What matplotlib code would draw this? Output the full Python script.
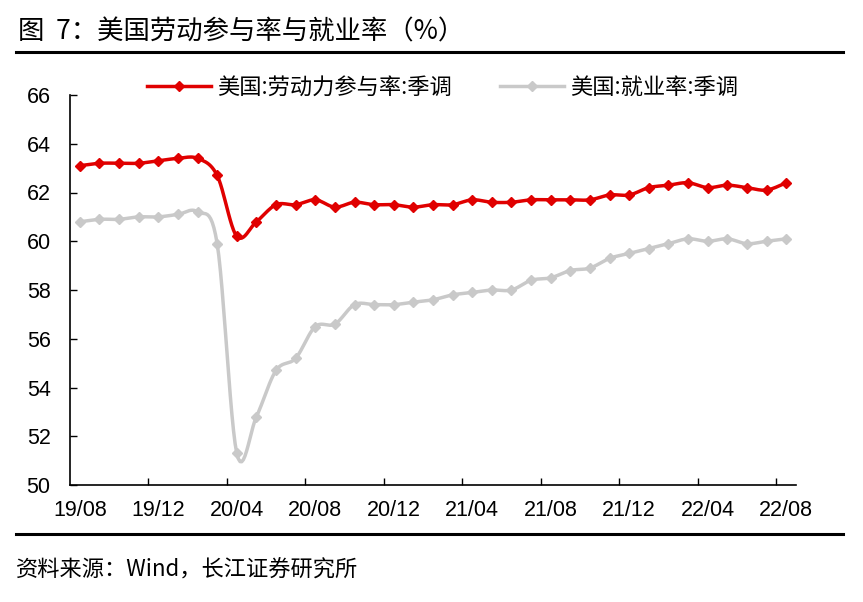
import numpy as np
import matplotlib
matplotlib.use("Agg")
import matplotlib.pyplot as plt
from matplotlib.lines import Line2D

# 月份标签（2019/08 - 2022/08）
months = ["19/08", "19/09", "19/10", "19/11", "19/12", "20/01", "20/02", "20/03",
          "20/04", "20/05", "20/06", "20/07", "20/08", "20/09", "20/10", "20/11",
          "20/12", "21/01", "21/02", "21/03", "21/04", "21/05", "21/06", "21/07",
          "21/08", "21/09", "21/10", "21/11", "21/12", "22/01", "22/02", "22/03",
          "22/04", "22/05", "22/06", "22/07", "22/08"]

# 美国:劳动力参与率:季调
lfpr = [63.1, 63.2, 63.2, 63.2, 63.3, 63.4, 63.4, 62.7, 60.2, 60.8, 61.5, 61.5,
        61.7, 61.4, 61.6, 61.5, 61.5, 61.4, 61.5, 61.5, 61.7, 61.6, 61.6, 61.7,
        61.7, 61.7, 61.7, 61.9, 61.9, 62.2, 62.3, 62.4, 62.2, 62.3, 62.2, 62.1,
        62.4]

# 美国:就业率:季调
epop = [60.8, 60.9, 60.9, 61.0, 61.0, 61.1, 61.2, 59.9, 51.3, 52.8, 54.7, 55.2,
        56.5, 56.6, 57.4, 57.4, 57.4, 57.5, 57.6, 57.8, 57.9, 58.0, 58.0, 58.4,
        58.5, 58.8, 58.9, 59.3, 59.5, 59.7, 59.9, 60.1, 60.0, 60.1, 59.9, 60.0,
        60.1]

yticks = [50, 52, 54, 56, 58, 60, 62, 64, 66]

red = "#E00000"
gray = "#C9C9C9"
num_font = ["Liberation Sans", "Noto Sans CJK SC"]
cjk_font = ["Noto Sans CJK SC", "DejaVu Sans"]


def smooth(y, n=12):
    # Catmull-Rom 平滑曲线（类似 Excel 平滑线）
    y = np.asarray(y, dtype=float)
    x = np.arange(len(y), dtype=float)
    px = np.concatenate([[x[0]], x, [x[-1]]])
    py = np.concatenate([[y[0]], y, [y[-1]]])
    xs, ys = [], []
    for i in range(1, len(px) - 2):
        t = np.linspace(0, 1, n, endpoint=False)
        for arr, out in ((px, xs), (py, ys)):
            p0, p1, p2, p3 = arr[i - 1], arr[i], arr[i + 1], arr[i + 2]
            out.extend(0.5 * ((2 * p1) + (-p0 + p2) * t
                              + (2 * p0 - 5 * p1 + 4 * p2 - p3) * t ** 2
                              + (-p0 + 3 * p1 - 3 * p2 + p3) * t ** 3))
    xs.append(x[-1])
    ys.append(y[-1])
    return np.array(xs), np.array(ys)


fig = plt.figure(figsize=(8.63, 6.02), dpi=100)
ax = fig.add_axes([70 / 863, 1 - 485 / 602, 726 / 863, 390 / 602])

x = np.arange(len(months))
for vals, c in ((epop, gray), (lfpr, red)):
    sx, sy = smooth(vals)
    ax.plot(sx, sy, color=c, lw=2.5, solid_capstyle="round", zorder=3)
    ax.plot(x, vals, ls="none", marker="D", ms=5.5, color=c, zorder=4)

ax.set_xlim(-0.5, len(months) - 0.5)
ax.set_ylim(50, 66)
ax.set_yticks(yticks)
ax.set_yticklabels([str(v) for v in yticks], family=num_font, fontsize=15.5)
ax.set_xticks(x[::4])
ax.set_xticklabels(months[::4], family=num_font, fontsize=15.5)
ax.set_xticks(x[4::4] - 0.5, minor=True)
ax.tick_params(axis="x", which="major", length=0, pad=11)
ax.tick_params(axis="x", which="minor", direction="in", length=5, width=1)
ax.tick_params(axis="y", direction="in", length=5, width=1, pad=14)

for s in ("top", "right"):
    ax.spines[s].set_visible(False)
for s in ("left", "bottom"):
    ax.spines[s].set_linewidth(1.2)

handles = [Line2D([], [], color=red, lw=2.5, marker="D", ms=5.5),
           Line2D([], [], color=gray, lw=2.5, marker="D", ms=5.5)]
labels = ["美国:劳动力参与率:季调", "美国:就业率:季调"]
fig.legend(handles, labels, loc="center", bbox_to_anchor=(0.513, 1 - 87 / 602),
           ncol=2, frameon=False, prop={"family": cjk_font, "size": 16},
           handlelength=2.9, handletextpad=0.27, columnspacing=2.15, borderpad=0)

# 标题与来源
fig.text(18 / 863, 1 - 32 / 602, "图  7：美国劳动参与率与就业率（%）",
         family=cjk_font, fontsize=19, va="center", ha="left")
fig.text(16 / 863, 1 - 570 / 602, "资料来源：Wind，长江证券研究所",
         family=cjk_font, fontsize=16, va="center", ha="left")
fig.add_artist(Line2D([16 / 863, 843 / 863], [1 - 52 / 602, 1 - 52 / 602],
                      color="black", lw=2.2))
fig.add_artist(Line2D([16 / 863, 843 / 863], [1 - 534 / 602, 1 - 534 / 602],
                      color="black", lw=2.2))

fig.savefig("out.png", dpi=100)
